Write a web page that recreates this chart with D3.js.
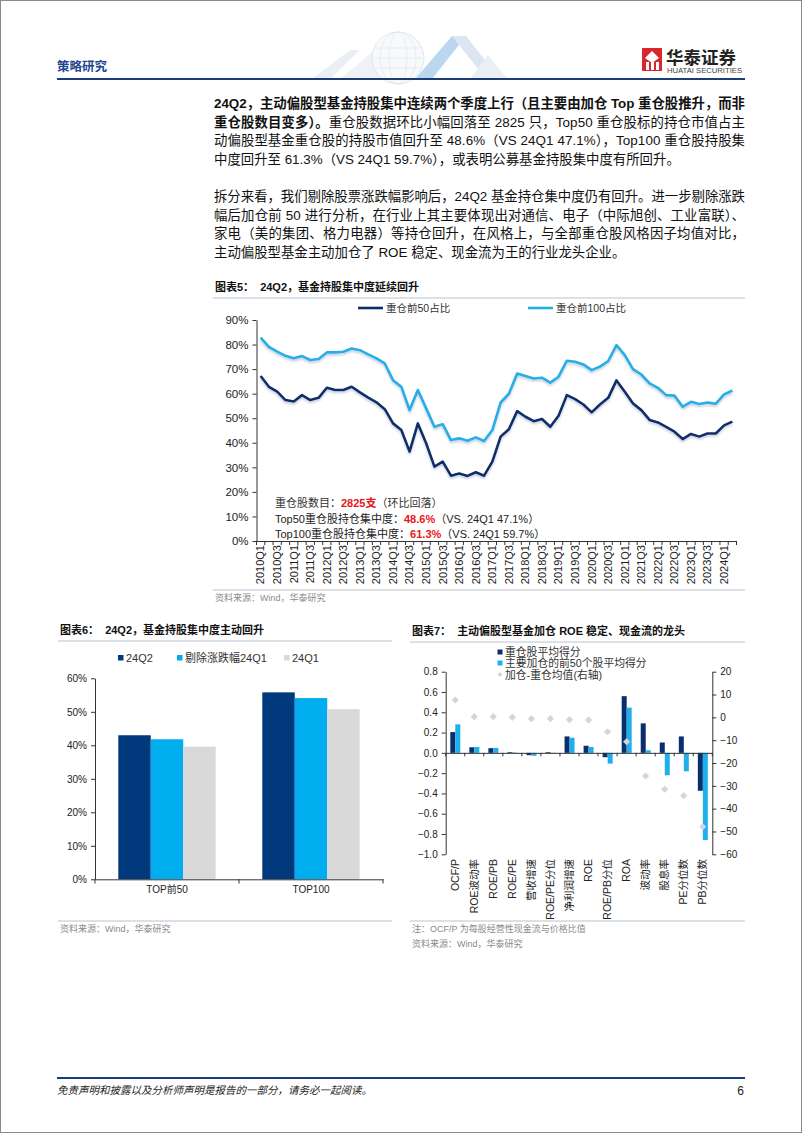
<!DOCTYPE html>
<html><head><meta charset="utf-8">
<script src="https://cdn.jsdelivr.net/npm/d3@7"></script>
<style>
html,body{margin:0;padding:0;background:#fff;}
svg{display:block;}
text{font-family:"Liberation Sans","Noto Sans CJK SC",sans-serif;}
</style></head><body>
<svg id="page" width="802" height="1133"></svg>
<script>
// ---------------- DATA ----------------
const quarters = ["2010Q1","2010Q2","2010Q3","2010Q4","2011Q1","2011Q2","2011Q3","2011Q4","2012Q1","2012Q2","2012Q3","2012Q4","2013Q1","2013Q2","2013Q3","2013Q4","2014Q1","2014Q2","2014Q3","2014Q4","2015Q1","2015Q2","2015Q3","2015Q4","2016Q1","2016Q2","2016Q3","2016Q4","2017Q1","2017Q2","2017Q3","2017Q4","2018Q1","2018Q2","2018Q3","2018Q4","2019Q1","2019Q2","2019Q3","2019Q4","2020Q1","2020Q2","2020Q3","2020Q4","2021Q1","2021Q2","2021Q3","2021Q4","2022Q1","2022Q2","2022Q3","2022Q4","2023Q1","2023Q2","2023Q3","2023Q4","2024Q1","2024Q2"];
const quarterLabels = ["2010Q1","2010Q3","2011Q1","2011Q3","2012Q1","2012Q3","2013Q1","2013Q3","2014Q1","2014Q3","2015Q1","2015Q3","2016Q1","2016Q3","2017Q1","2017Q3","2018Q1","2018Q3","2019Q1","2019Q3","2020Q1","2020Q3","2021Q1","2021Q3","2022Q1","2022Q3","2023Q1","2023Q3","2024Q1"];
const top50Share = [67.2,62.8,60.8,57.4,56.8,59.4,57.4,58.3,62.4,61.5,61.5,62.8,60.5,58.4,56.5,53.7,47.9,45.2,36.4,47.9,39.8,30.3,32.3,26.6,27.5,26.5,28.0,26.6,32.3,42.5,45.5,52.9,50.6,48.8,49.7,46.5,51.0,59.4,57.8,55.6,52.4,55.6,58.3,65.4,60.8,56.0,53.3,49.3,48.3,46.5,44.5,41.5,43.6,42.5,43.8,43.8,47.1,48.6];
const top100Share = [82.8,79.1,77.1,75.4,74.4,75.3,73.7,74.1,76.8,76.8,77.1,78.4,77.7,76.0,74.4,72.3,65.5,62.8,53.3,61.5,54.0,46.5,47.6,41.1,41.8,40.8,42.2,40.7,45.2,56.4,60.0,68.2,67.2,66.2,66.5,64.5,66.9,73.4,73.0,71.9,69.6,71.0,73.3,79.8,75.7,70.0,67.8,64.2,62.4,59.4,59.2,54.7,56.7,55.8,56.4,55.9,59.7,61.3];
const c5Series = ["重仓前50占比","重仓前100占比"];
const c5YTicks = [0,10,20,30,40,50,60,70,80,90];

const c6Categories = ["TOP前50","TOP100"];
const c6Series = ["24Q2","剔除涨跌幅24Q1","24Q1"];
const c6Q2 = [43.0,55.8];
const c6AdjQ1 = [41.8,54.1];
const c6Q1 = [39.6,50.8];
const c6YTicks = [0,10,20,30,40,50,60];

const c7Categories = ["OCF/P","ROE波动率","ROE/PB","ROE/PE","营收增速","ROE/PE分位","净利润增速","ROE","ROE/PB分位","ROA","波动率","股息率","PE分位数","PB分位数"];
const c7Series = ["重仓股平均得分","主要加仓的前50个股平均得分","加仓-重仓均值(右轴)"];
const c7Heavy = [0.205,0.055,0.046,0.007,-0.023,0.007,0.162,0.070,-0.043,0.559,0.291,0.102,0.162,-0.374];
const c7Added = [0.281,0.058,0.049,0.004,-0.029,0.002,0.149,0.058,-0.106,0.446,0.026,-0.221,-0.182,-0.860];
const c7Diff = [7.6,0.3,0.3,0.0,-0.6,-0.6,-1.0,-1.2,-6.3,-10.7,-25.7,-31.5,-34.3,-47.9];
const c7LeftTicks = [0.8,0.6,0.4,0.2,0.0,-0.2,-0.4,-0.6,-0.8,-1.0];
const c7RightTicks = [20,10,0,-10,-20,-30,-40,-50,-60];

// ---------------- PAGE ----------------
const svg = d3.select('#page');
const NAVY = '#0c2d6b', SKY = '#25aee8';
svg.append('rect').attr('x',0.5).attr('y',0.5).attr('width',801).attr('height',1132)
  .attr('fill','#fff').attr('stroke','#8a8a8a').attr('stroke-width',1);

const defs = svg.append('defs');
const f = defs.append('filter').attr('id','sh').attr('x','-5%').attr('y','-20%').attr('width','110%').attr('height','160%');
f.append('feDropShadow').attr('dx',0).attr('dy',2).attr('stdDeviation',1.3)
  .attr('flood-color','#8294b4').attr('flood-opacity',0.45);

// header watermark
const wm = svg.append('g').attr('opacity',0.6);
wm.append('path').attr('d','M312,79 L350,50 L360,50 L330,79Z').attr('fill','#dde6ef');
wm.append('path').attr('d','M340,79 L372,52 L392,79Z').attr('fill','#e4ebf3');
wm.append('circle').attr('cx',398).attr('cy',58).attr('r',26).attr('fill','#f4f6f9').attr('stroke','#c4ceda').attr('stroke-width',0.8);
[9,18].forEach(r=>wm.append('ellipse').attr('cx',398).attr('cy',58).attr('rx',r).attr('ry',26).attr('fill','none').attr('stroke','#cfd7e1').attr('stroke-width',0.7));
[48,58,68].forEach(yy=>wm.append('line').attr('x1',374).attr('x2',422).attr('y1',yy).attr('y2',yy).attr('stroke','#cfd7e1').attr('stroke-width',0.7));
wm.append('path').attr('d','M415,79 L452,36 L466,36 L432,79Z').attr('fill','#8fbde6');
wm.append('path').attr('d','M452,36 L466,36 L500,79 L486,79Z').attr('fill','#c6d7e8');
wm.append('path').attr('d','M470,79 L488,55 L508,79Z').attr('fill','#dfe7f0');

svg.append('text').attr('x',57).attr('y',71).text('策略研究')
  .attr('font-size',12.5).attr('font-weight','bold').attr('fill','#1f4590');
svg.append('line').attr('x1',57).attr('x2',745).attr('y1',79).attr('y2',79)
  .attr('stroke','#1b3c78').attr('stroke-width',2);
// logo
svg.append('rect').attr('x',642).attr('y',48).attr('width',20).attr('height',23).attr('fill','#d9262c');
svg.append('path').attr('d','M652,51 L659,58 L652,63 L645,58Z').attr('fill','#fff');
[646,651,656].forEach(x=>svg.append('rect').attr('x',x).attr('y',62).attr('width',3).attr('height',8).attr('fill','#fff'));
svg.append('text').attr('x',666).attr('y',64).text('华泰证券').attr('font-size',17.5).attr('font-weight','bold').attr('fill','#222');
svg.append('text').attr('x',667).attr('y',73).text('HUATAI SECURITIES').attr('font-size',6.6).attr('fill','#444')
  .attr('textLength',75).attr('lengthAdjust','spacingAndGlyphs');

// paragraphs
const TX = 214, TW = 531;
function textLine(segs, y, justify){
  const t = svg.append('text').attr('x',TX).attr('y',y).attr('font-size',13.4).attr('fill','#111');
  segs.forEach(s=>t.append('tspan').text(s[0]).attr('font-weight', s[1]?'bold':'normal'));
  if(justify) t.attr('textLength',TW).attr('lengthAdjust','spacing');
}
const p1 = [
  [[["24Q2，主动偏股型基金持股集中连续两个季度上行（且主要由加仓 Top 重仓股推升，而非",1]],1],
  [[["重仓股数目变多）。",1],["重仓股数据环比小幅回落至 2825 只，Top50 重仓股标的持仓市值占主",0]],1],
  [[["动偏股型基金重仓股的持股市值回升至 48.6%（VS 24Q1 47.1%），Top100 重仓股持股集",0]],1],
  [[["中度回升至 61.3%（VS 24Q1 59.7%），或表明公募基金持股集中度有所回升。",0]],0]
];
p1.forEach((l,i)=>textLine(l[0], 108 + i*18.6, l[1]));
const p2 = [
  [[["拆分来看，我们剔除股票涨跌幅影响后，24Q2 基金持仓集中度仍有回升。进一步剔除涨跌",0]],1],
  [[["幅后加仓前 50 进行分析，在行业上其主要体现出对通信、电子（中际旭创、工业富联）、",0]],1],
  [[["家电（美的集团、格力电器）等持仓回升，在风格上，与全部重仓股风格因子均值对比，",0]],1],
  [[["主动偏股型基金主动加仓了 ROE 稳定、现金流为王的行业龙头企业。",0]],0]
];
p2.forEach((l,i)=>textLine(l[0], 201 + i*18.6, l[1]));

function chartTitle(x1,x2,y,label,title){
  const t = svg.append('text').attr('x',x1+2).attr('y',y).attr('font-size',11).attr('font-weight','bold').attr('fill','#111');
  t.append('tspan').text(label);
  t.append('tspan').attr('dx',6).text(title);
  svg.append('line').attr('x1',x1).attr('x2',x2).attr('y1',y+7).attr('y2',y+7).attr('stroke','#b6c3d1').attr('stroke-width',1);
}
function source(x1,x2,y,lines){
  svg.append('line').attr('x1',x1).attr('x2',x2).attr('y1',y).attr('y2',y).attr('stroke','#b6c3d1').attr('stroke-width',1);
  lines.forEach((s,i)=>svg.append('text').attr('x',x1+2).attr('y',y+11+i*14.5).attr('font-size',9).attr('fill','#8a8a8a').text(s));
}
function styleAxis(g){
  g.selectAll('path.domain').attr('stroke','#333');
  g.selectAll('.tick line').attr('stroke','#333');
  g.selectAll('text').attr('fill','#222').attr('font-family','"Liberation Sans","Noto Sans CJK SC",sans-serif');
}

// ---------------- CHART 5 ----------------
chartTitle(213,745,291,'图表5：','24Q2，基金持股集中度延续回升');
const x5 = d3.scaleBand().domain(quarters).range([256.5,736.5]).padding(0);
const y5 = d3.scaleLinear().domain([0,90]).range([541,320]);
const gy5 = svg.append('g').attr('transform','translate(256.5,0)')
  .call(d3.axisLeft(y5).tickValues(c5YTicks).tickFormat(d=>d+'%').tickSize(4).tickSizeOuter(0).tickPadding(4));
gy5.selectAll('text').attr('font-size',11.5);
styleAxis(gy5);
const gx5 = svg.append('g').attr('transform','translate(0,541)')
  .call(d3.axisBottom(x5).tickValues(quarterLabels).tickSize(0).tickSizeOuter(0));
gx5.selectAll('text').attr('font-size',11).attr('transform','rotate(-90)')
  .attr('text-anchor','end').attr('x',-4).attr('y',0).attr('dy','0.35em');
styleAxis(gx5);
svg.append('g').selectAll('line').data(quarters.concat(['end'])).join('line')
  .attr('x1',(d,i)=> i<quarters.length ? x5(d) : x5.range()[1]).attr('x2',(d,i)=> i<quarters.length ? x5(d) : x5.range()[1])
  .attr('y1',541).attr('y2',545).attr('stroke','#333');
const line5 = d3.line().x((d,i)=>x5(quarters[i])+x5.bandwidth()/2).y(d=>y5(d)).curve(d3.curveLinear);
svg.append('path').datum(top100Share).attr('d',line5).attr('fill','none').attr('stroke',SKY).attr('stroke-width',2.6).attr('filter','url(#sh)').attr('stroke-linejoin','round');
svg.append('path').datum(top50Share).attr('d',line5).attr('fill','none').attr('stroke',NAVY).attr('stroke-width',2.6).attr('filter','url(#sh)').attr('stroke-linejoin','round');
// legend
const lg5 = [[358,NAVY],[528,SKY]];
c5Series.forEach((s,i)=>{
  svg.append('line').attr('x1',lg5[i][0]).attr('x2',lg5[i][0]+25).attr('y1',308).attr('y2',308).attr('stroke',lg5[i][1]).attr('stroke-width',2.6);
  svg.append('text').attr('x',lg5[i][0]+28).attr('y',312).attr('font-size',10.5).attr('fill','#333').text(s);
});
// annotation
const ann = [
  [["重仓股数目：",'#333',0],["2825支",'#e8141b',1],["（环比回落）",'#333',0]],
  [["Top50重仓股持仓集中度：",'#222',0],["48.6%",'#e8141b',1],["（VS. 24Q1 47.1%）",'#222',0]],
  [["Top100重仓股持仓集中度：",'#222',0],["61.3%",'#e8141b',1],["（VS. 24Q1 59.7%）",'#222',0]]
];
ann.forEach((l,i)=>{
  const t = svg.append('text').attr('x',275).attr('y',507+i*15.5).attr('font-size',11);
  l.forEach(s=>t.append('tspan').text(s[0]).attr('fill',s[1]).attr('font-weight',s[2]?'bold':'normal'));
});
source(213,745,590,['资料来源：Wind，华泰研究']);

// ---------------- CHART 6 ----------------
chartTitle(58,392,634,'图表6：','24Q2，基金持股集中度主动回升');
const x6 = d3.scaleBand().domain(c6Categories).range([95,383]).padding(0);
const x6i = d3.scaleBand().domain(c6Series).range([23.3,120.7]).padding(0);
const y6 = d3.scaleLinear().domain([0,60]).range([879.3,678.3]);
const gy6 = svg.append('g').attr('transform','translate(95,0)')
  .call(d3.axisLeft(y6).tickValues(c6YTicks).tickFormat(d=>d+'%').tickSize(4).tickSizeOuter(0).tickPadding(4));
gy6.selectAll('text').attr('font-size',10);
styleAxis(gy6);
const c6Colors = ['#003a7d','#00aeef','#d9d9d9'];
const c6Vals = [c6Q2,c6AdjQ1,c6Q1];
c6Series.forEach((s,si)=>{
  svg.append('g').selectAll('rect').data(c6Categories).join('rect')
    .attr('x',d=>x6(d)+x6i(s)).attr('width',x6i.bandwidth())
    .attr('y',(d,i)=>y6(c6Vals[si][i])).attr('height',(d,i)=>y6(0)-y6(c6Vals[si][i]))
    .attr('fill',c6Colors[si]);
});
const gx6 = svg.append('g').attr('transform','translate(0,879.3)')
  .call(d3.axisBottom(x6).tickSize(0).tickSizeOuter(0).tickPadding(7));
gx6.selectAll('text').attr('font-size',10);
styleAxis(gx6);
svg.append('g').selectAll('line').data([95,239,383]).join('line')
  .attr('x1',d=>d).attr('x2',d=>d).attr('y1',879.3).attr('y2',883.5).attr('stroke','#333');
const lg6x = [118,177,284];
c6Series.forEach((s,i)=>{
  svg.append('rect').attr('x',lg6x[i]).attr('y',655).attr('width',5.5).attr('height',5.5).attr('fill',c6Colors[i]);
  svg.append('text').attr('x',lg6x[i]+8).attr('y',662).attr('font-size',11).attr('fill','#333').text(s);
});
source(58,392,921,['资料来源：Wind，华泰研究']);

// ---------------- CHART 7 ----------------
chartTitle(410,745,635,'图表7：','主动偏股型基金加仓 ROE 稳定、现金流的龙头');
const x7 = d3.scaleBand().domain(c7Categories).range([445.7,712.3]).padding(0);
const x7i = d3.scaleBand().domain(c7Series.slice(0,2)).range([4.6,14.6]).padding(0);
const y7 = d3.scaleLinear().domain([-1.0,0.8]).range([854.3,671.7]);
const y7r = d3.scaleLinear().domain([-60,20]).range([854.3,671.7]);
const gy7 = svg.append('g').attr('transform','translate(445.7,0)')
  .call(d3.axisLeft(y7).tickValues(c7LeftTicks).tickFormat(d3.format('.1f')).tickSize(4).tickSizeOuter(0).tickPadding(4));
gy7.selectAll('text').attr('font-size',10);
styleAxis(gy7);
const gy7r = svg.append('g').attr('transform','translate(712.3,0)')
  .call(d3.axisRight(y7r).tickValues(c7RightTicks).tickFormat(d3.format('d')).tickSize(4).tickSizeOuter(0).tickPadding(4));
gy7r.selectAll('text').attr('font-size',10);
styleAxis(gy7r);
const c7Colors = ['#0b2f6e','#1fb0ec'];
[c7Heavy,c7Added].forEach((vals,si)=>{
  svg.append('g').selectAll('rect').data(c7Categories).join('rect')
    .attr('x',d=>x7(d)+x7i(c7Series[si])).attr('width',x7i.bandwidth())
    .attr('y',(d,i)=>Math.min(y7(0),y7(vals[i]))).attr('height',(d,i)=>Math.abs(y7(vals[i])-y7(0)))
    .attr('fill',c7Colors[si]);
});
const gx7 = svg.append('g').attr('transform',`translate(0,${y7(0)})`)
  .call(d3.axisBottom(x7).tickSize(0).tickSizeOuter(0).tickFormat(''));
styleAxis(gx7);
svg.append('g').selectAll('line').data(c7Categories.concat(['end'])).join('line')
  .attr('x1',(d,i)=> i<c7Categories.length ? x7(d) : x7.range()[1]).attr('x2',(d,i)=> i<c7Categories.length ? x7(d) : x7.range()[1])
  .attr('y1',y7(0)).attr('y2',y7(0)+3.5).attr('stroke','#333');
const diamond = 'M0,-3.6L3.6,0L0,3.6L-3.6,0Z';
svg.append('g').selectAll('path').data(c7Categories).join('path')
  .attr('d',diamond).attr('transform',(d,i)=>`translate(${x7(d)+x7.bandwidth()/2},${y7r(c7Diff[i])})`)
  .attr('fill','#d3d4dc');
svg.append('g').selectAll('text').data(c7Categories).join('text')
  .attr('transform',d=>`translate(${x7(d)+x7.bandwidth()/2},859) rotate(-90)`)
  .attr('text-anchor','end').attr('dy','0.35em').attr('font-size',10.5).attr('fill','#222').text(d=>d);
// legend
const lg7y = [652,663,674.5];
c7Series.forEach((s,i)=>{
  if(i<2) svg.append('rect').attr('x',497.5).attr('y',lg7y[i]-2.5).attr('width',5).attr('height',5).attr('fill',c7Colors[i]);
  else svg.append('path').attr('d','M0,-2.5L2.5,0L0,2.5L-2.5,0Z').attr('transform',`translate(500,${lg7y[i]})`).attr('fill','#d3d4dc');
  svg.append('text').attr('x',505).attr('y',lg7y[i]+4).attr('font-size',10.8).attr('fill','#333').text(s);
});
source(410,745,921,['注：OCF/P 为每股经营性现金流与价格比值','资料来源：Wind，华泰研究']);

// ---------------- FOOTER ----------------
svg.append('line').attr('x1',57).attr('x2',745).attr('y1',1078).attr('y2',1078).attr('stroke','#1b3c78').attr('stroke-width',2);
svg.append('text').attr('x',57).attr('y',1094).attr('font-size',10.5).attr('font-style','italic').attr('fill','#222')
  .text('免责声明和披露以及分析师声明是报告的一部分，请务必一起阅读。');
svg.append('text').attr('x',744).attr('y',1095).attr('text-anchor','end').attr('font-size',12).attr('fill','#222').text('6');
</script>
</body></html>
